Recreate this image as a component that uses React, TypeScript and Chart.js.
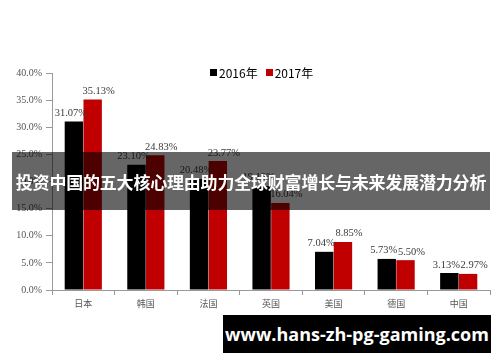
import React, { useEffect, useRef } from "react";
import { Chart, registerables } from "chart.js";

Chart.register(...registerables);

const categories = ["日本", "韩国", "法国", "英国", "美国", "德国", "中国"];
const values2016 = [31.07, 23.1, 20.48, 19.19, 7.04, 5.73, 3.13];
const values2017 = [35.13, 24.83, 23.77, 16.04, 8.85, 5.5, 2.97];
const seriesNames = ["2016年", "2017年"];
const yTicksMax = 40;
const titleText = "投资中国的五大核心理由助力全球财富增长与未来发展潜力分析";
const urlText = "www.hans-zh-pg-gaming.com";

const labelPlugin = {
  id: "barLabels",
  afterDatasetsDraw(chart: any) {
    const ctx = chart.ctx;
    ctx.save();
    ctx.font = "10.5px 'Liberation Serif', serif";
    ctx.fillStyle = "#3a3a3a";
    ctx.textAlign = "center";
    ctx.textBaseline = "bottom";
    chart.data.datasets.forEach((ds: any, di: number) => {
      const meta = chart.getDatasetMeta(di);
      const dx = di === 0 ? -3 : 6;
      meta.data.forEach((bar: any, i: number) => {
        const v = ds.data[i];
        ctx.fillText(v.toFixed(2) + "%", bar.x + dx, bar.y - 3);
      });
    });
    ctx.restore();
  },
};

export default function App() {
  const ref = useRef<HTMLCanvasElement>(null);
  useEffect(() => {
    if (!ref.current) return;
    const chart = new Chart(ref.current, {
      type: "bar",
      data: {
        labels: categories,
        datasets: [
          { label: seriesNames[0], data: values2016, backgroundColor: "#000000", categoryPercentage: 0.6, barPercentage: 0.98 },
          { label: seriesNames[1], data: values2017, backgroundColor: "#c00000", categoryPercentage: 0.6, barPercentage: 0.98 },
        ],
      },
      options: {
        animation: false,
        responsive: false,
        maintainAspectRatio: false,
        layout: { padding: { top: 73, right: 10, bottom: 50, left: 0 } },
        plugins: { legend: { display: false }, tooltip: { enabled: false } },
        scales: {
          x: {
            grid: { drawOnChartArea: false, offset: true, tickLength: 5, color: "#999" },
            border: { color: "#999" },
            ticks: { color: "#555", font: { size: 9, family: "'Noto Sans CJK SC', sans-serif" }, padding: 3 },
            afterFit: (s: any) => { s.height = 22; },
          },
          y: {
            min: 0,
            max: yTicksMax,
            grid: { drawOnChartArea: false, tickLength: 6, color: "#999" },
            border: { color: "#999" },
            ticks: {
              stepSize: 5,
              color: "#555",
              font: { size: 10, family: "'Liberation Serif', serif" },
              padding: 4,
              callback: (v: any) => Number(v).toFixed(1) + "%",
            },
            afterFit: (s: any) => { s.width = 52; },
          },
        },
      },
      plugins: [labelPlugin],
    });
    return () => chart.destroy();
  }, []);

  return (
    <div style={{ position: "absolute", left: 0, top: 0, width: 500, height: 362, background: "#fff", overflow: "hidden" }}>
      <canvas ref={ref} width={500} height={362} style={{ position: "absolute", left: 0, top: 0 }} />
      <div style={{ position: "absolute", left: 210, top: 64, display: "flex", alignItems: "center", fontFamily: "'Noto Sans CJK SC', sans-serif", fontSize: 12, color: "#000" }}>
        <span style={{ width: 7, height: 7, background: "#000", display: "inline-block", marginRight: 2 }} />
        <span style={{ marginRight: 8 }}>{seriesNames[0]}</span>
        <span style={{ width: 7, height: 7, background: "#c00000", display: "inline-block", marginRight: 2 }} />
        <span>{seriesNames[1]}</span>
      </div>
      <div style={{ position: "absolute", left: 12, top: 152, width: 478, height: 58, background: "rgba(0,0,0,0.6)", display: "flex", alignItems: "center", justifyContent: "center", color: "#fff", fontWeight: "bold", fontSize: 17, fontFamily: "'Noto Sans CJK SC', sans-serif", whiteSpace: "nowrap", letterSpacing: -0.2 }}>
        {titleText}
      </div>
      <div style={{ position: "absolute", left: 223, top: 315, width: 268, height: 38, background: "#000", display: "flex", alignItems: "center", justifyContent: "center", color: "#fff", fontWeight: "bold", fontSize: 18, fontFamily: "'Open Sans', 'DejaVu Sans', sans-serif", whiteSpace: "nowrap" }}>
        {urlText}
      </div>
    </div>
  );
}
